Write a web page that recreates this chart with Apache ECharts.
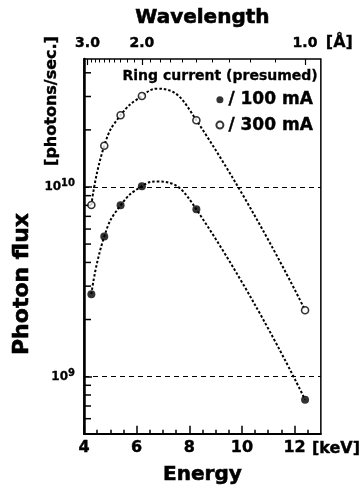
<!DOCTYPE html>
<html>
<head>
<meta charset="utf-8">
<script src="https://cdn.jsdelivr.net/npm/echarts@6/dist/echarts.min.js"></script>
<style>
  html, body { margin: 0; padding: 0; background: #fff; }
  #chart { width: 363px; height: 490px; }
</style>
</head>
<body>
<div id="chart"></div>
<script>
// measured points (keV, photons/sec)
const energies = [4.28, 4.77, 5.39, 6.20, 8.27, 12.40]
const flux100 = [2.72e9, 5.48e9, 8.0e9, 1.01e10, 7.62e9, 7.55e8]
const flux300 = [8.03e9, 1.65e10, 2.39e10, 3.02e10, 2.25e10, 2.24e9]

// dotted guide curves
const curveE = [4.28, 4.77, 5.39, 6.20, 6.80, 8.27, 12.40]
const curve100 = [2.72e9, 5.48e9, 8.0e9, 1.01e10, 1.07e10, 7.62e9, 7.55e8]
const curve300 = [8.03e9, 1.65e10, 2.39e10, 3.02e10, 3.30e10, 2.25e10, 2.24e9]

// axis ticks
const energyLabels = [4, 6, 8, 10, 12]
const energyMinor = [4.5, 5, 5.5, 6.5, 7, 7.5, 8.5, 9, 9.5, 10.5, 11, 11.5, 12.5]
const wlMajor = [3.0, 2.0, 1.0]
const wlMinor = [2.9, 2.8, 2.7, 2.6, 2.5, 2.4, 2.3, 2.2, 2.1, 1.9, 1.8, 1.7, 1.6, 1.5, 1.4, 1.3, 1.2, 1.1]
const fluxMinor = [6e8, 7e8, 8e8, 9e8, 2e9, 3e9, 4e9, 5e9, 6e9, 7e9, 8e9, 9e9, 2e10, 3e10, 4e10]

const HC = 12.398 // keV * Angstrom
const FONT = '"DejaVu Sans", Arial, sans-serif'
const X_MIN = 4, X_MAX = 13

const pairs = (xs, ys) => xs.map((x, i) => [x, ys[i]])
// bold text, thickened a little with an outline
const heavy = (size, w) => ({
  fontFamily: FONT, fontWeight: 'bold', fontSize: size, color: '#000',
  textBorderColor: '#000', textBorderWidth: w
})

const chart = echarts.init(document.getElementById('chart'))

const baseX = {
  type: 'value', min: X_MIN, max: X_MAX,
  splitLine: { show: false },
  axisLine: { show: false },
  axisLabel: { show: false }
}

const curveStyle = { color: '#000', width: 2, type: [2.5, 2] }

const option = {
  animation: false,
  backgroundColor: '#fff',
  textStyle: { fontFamily: FONT },
  grid: {
    left: 84, right: 40, top: 59, bottom: 50,
    show: true, borderColor: '#000', borderWidth: 1.5
  },
  title: {
    text: 'Ring current (presumed)',
    right: 45, top: 69, padding: 0,
    textStyle: heavy(14, 0.3)
  },
  legend: {
    data: ['/ 100 mA', '/ 300 mA'],
    orient: 'vertical', right: 50, top: 91, itemGap: 8,
    itemWidth: 7, itemHeight: 7, padding: 0,
    textStyle: heavy(17, 0.4)
  },
  xAxis: [
    { // energy, minor ticks + labels
      ...baseX, position: 'bottom',
      axisLine: { show: true, lineStyle: { color: '#000', width: 2 } },
      axisTick: { inside: true, length: 4, customValues: energyMinor, lineStyle: { color: '#000', width: 1.5 } },
      axisLabel: { show: true, customValues: energyLabels, margin: 6, ...heavy(16, 0.4) },
      name: '[keV]', nameLocation: 'end', nameGap: -10,
      nameTextStyle: { ...heavy(16, 0.4), verticalAlign: 'top', padding: [7, 0, 0, 0] }
    },
    { // energy, major ticks
      ...baseX, position: 'bottom',
      axisTick: { inside: true, length: 8, customValues: energyLabels, lineStyle: { color: '#000', width: 1.5 } },
      name: 'Energy', nameLocation: 'middle', nameGap: 31,
      nameTextStyle: heavy(20, 0.6)
    },
    { // wavelength, major ticks + labels
      ...baseX, position: 'top',
      axisTick: { inside: true, length: 6, customValues: wlMajor.map(w => HC / w), lineStyle: { color: '#000', width: 1.2 } },
      axisLabel: {
        show: true, customValues: wlMajor.map(w => HC / w), margin: 9,
        formatter: v => (HC / v).toFixed(1),
        ...heavy(14, 0.4)
      },
      name: '[Å]', nameLocation: 'end', nameGap: 5,
      nameTextStyle: { ...heavy(16, 0.3), verticalAlign: 'bottom', padding: [0, 0, 8, 0] }
    },
    { // wavelength, minor ticks
      ...baseX, position: 'top',
      axisTick: { inside: true, length: 3.5, customValues: wlMinor.map(w => HC / w), lineStyle: { color: '#000', width: 1 } },
      name: 'Wavelength', nameLocation: 'middle', nameGap: 31,
      nameTextStyle: heavy(20, 0.6)
    }
  ],
  yAxis: {
    type: 'log', min: 5e8, max: 4.73e10,
    axisLine: { show: true, lineStyle: { color: '#000', width: 2.5 } },
    axisTick: { inside: true, length: 8, lineStyle: { color: '#000', width: 1.5 } },
    splitLine: {
      show: true, showMinLine: false, showMaxLine: false,
      lineStyle: { color: '#000', width: 1, type: [5, 4] }
    },
    axisLabel: {
      showMinLabel: false, showMaxLabel: false, margin: 9,
      formatter: v => '{b|10}{s|' + Math.round(Math.log10(v)) + '}',
      rich: {
        b: heavy(12, 0.3),
        s: { ...heavy(10, 0.3), padding: [0, 0, 7, 0] }
      }
    }
  },
  graphic: [
    {
      type: 'text', x: 22, y: 284, rotation: Math.PI / 2,
      style: {
        text: 'Photon flux', fontFamily: FONT, fontWeight: 'bold', fontSize: 22,
        fill: '#000', stroke: '#000', lineWidth: 0.6, align: 'center', verticalAlign: 'middle'
      }
    },
    {
      type: 'text', x: 52, y: 101, rotation: Math.PI / 2,
      style: {
        text: '[photons/sec.]', fontFamily: FONT, fontWeight: 'bold', fontSize: 16,
        fill: '#000', stroke: '#000', lineWidth: 0.4, align: 'center', verticalAlign: 'middle'
      }
    }
  ],
  series: [
    {
      type: 'custom', silent: true,
      data: fluxMinor.map(v => [X_MIN, v]),
      renderItem: (params, api) => {
        const p = api.coord([api.value(0), api.value(1)])
        return {
          type: 'line',
          shape: { x1: p[0], y1: p[1], x2: p[0] + 7, y2: p[1] },
          style: { stroke: '#000', lineWidth: 1.5 }
        }
      }
    },
    {
      type: 'line', data: pairs(curveE, curve100), smooth: 0.5,
      showSymbol: false, silent: true, lineStyle: curveStyle
    },
    {
      type: 'line', data: pairs(curveE, curve300), smooth: 0.5,
      showSymbol: false, silent: true, lineStyle: curveStyle
    },
    {
      name: '/ 100 mA', type: 'scatter', z: 5,
      data: pairs(energies, flux100),
      symbol: 'circle', symbolSize: 8,
      itemStyle: { color: '#000' }
    },
    {
      name: '/ 300 mA', type: 'scatter', z: 5,
      data: pairs(energies, flux300),
      symbol: 'circle', symbolSize: 7,
      itemStyle: { color: '#fff', borderColor: '#000', borderWidth: 1.6 }
    }
  ]
}

chart.setOption(option)
</script>
</body>
</html>
